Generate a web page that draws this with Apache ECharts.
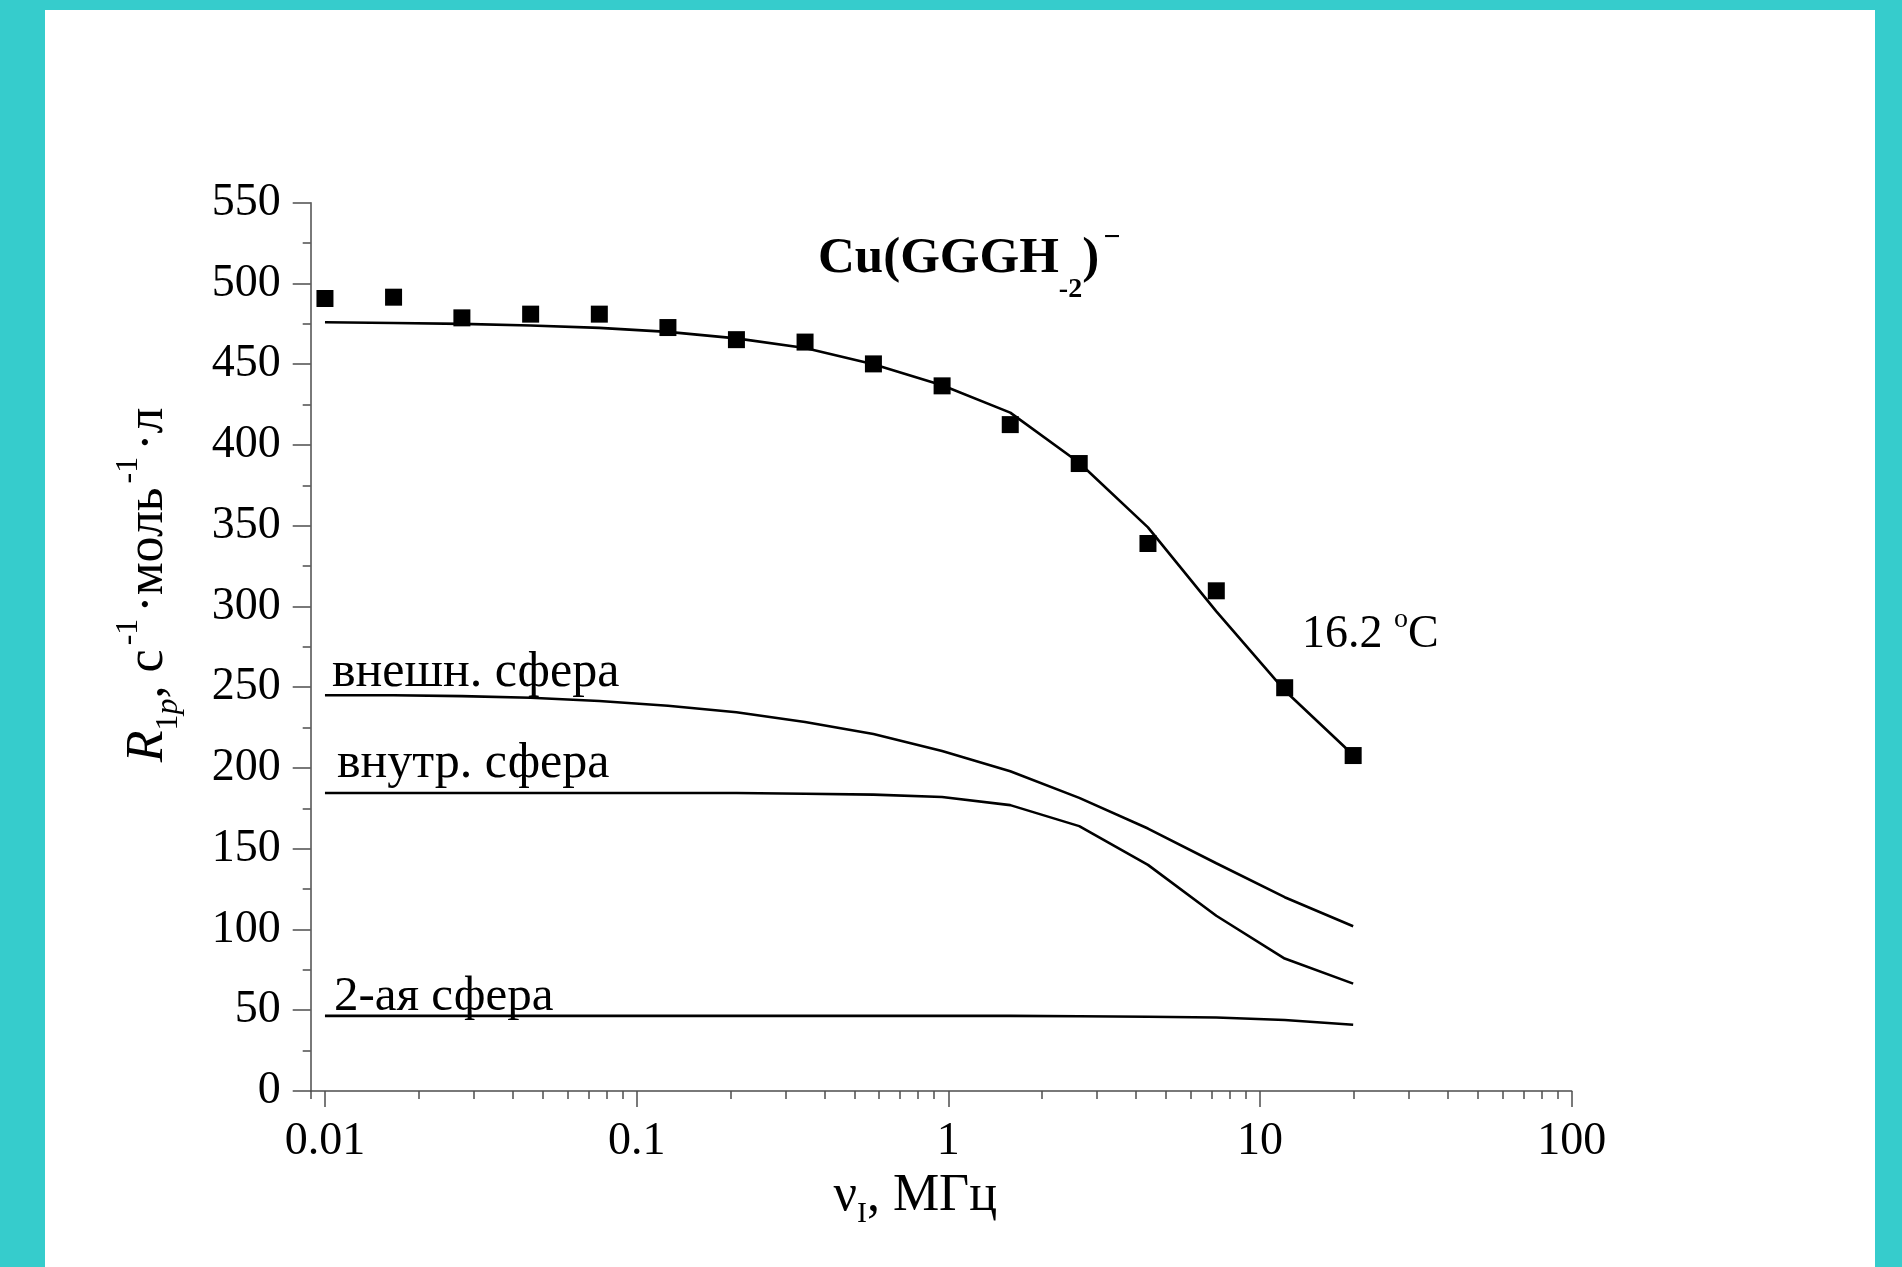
<!DOCTYPE html>
<html>
<head>
<meta charset="utf-8">
<script src="https://cdn.jsdelivr.net/npm/echarts@6/dist/echarts.min.js"></script>
<style>
  html, body { margin: 0; padding: 0; width: 1902px; height: 1267px; overflow: hidden; background: #36cccc; }
  #chart { position: absolute; left: 45px; top: 10px; width: 1830px; height: 1257px; background: #fff; }
</style>
</head>
<body>
<div id="chart"></div>
<script>
// частота, МГц
var freq = [0.01, 0.0166, 0.0275, 0.0457, 0.0759, 0.126, 0.209, 0.347, 0.575, 0.955, 1.58, 2.63, 4.37, 7.24, 12.0, 19.9];
// эксперимент R1p, 16.2 °C
var expR = [490.7, 491.5, 478.7, 481, 481, 472.7, 465.2, 463.7, 450.2, 436.6, 412.6, 388.5, 339, 309.7, 249.7, 207.7];
// расчёт: сумма и вклады
var fitTotal = [476, 475.5, 475, 474, 472.5, 470, 466, 460, 450, 437, 420, 389, 349, 297, 248, 208];
var fitOuter = [245, 245, 244.5, 243.5, 241.5, 238.5, 234.5, 228.5, 221, 210.5, 198, 181.5, 162.5, 141, 120, 102];
var fitInner = [184.5, 184.5, 184.5, 184.5, 184.5, 184.5, 184.5, 184, 183.5, 182, 177, 164, 140, 108.5, 82, 66.5];
var fitSecond = [46.5, 46.5, 46.5, 46.5, 46.5, 46.5, 46.5, 46.5, 46.5, 46.5, 46.5, 46.3, 46, 45.5, 44, 41];

// деления оси x
var xMajor = [0.01, 0.1, 1, 10, 100];
var xMinor = [0.009,
  0.02, 0.03, 0.04, 0.05, 0.06, 0.07, 0.08, 0.09,
  0.2, 0.3, 0.4, 0.5, 0.6, 0.7, 0.8, 0.9,
  2, 3, 4, 5, 6, 7, 8, 9,
  20, 30, 40, 50, 60, 70, 80, 90];

var FONT = 'Liberation Serif';
var AX = '#4d4d4d';

function pairs(ys) {
  return freq.map(function (f, i) { return [f, ys[i]]; });
}

var chart = echarts.init(document.getElementById('chart'));

var lineStyle = { color: '#000', width: 2.6 };
function curve(name, ys) {
  return {
    name: name, type: 'line', xAxisIndex: 0, yAxisIndex: 0,
    data: pairs(ys), symbol: 'none', smooth: false,
    lineStyle: lineStyle, z: 3, silent: true
  };
}

var option = {
  animation: false,
  backgroundColor: '#fff',
  textStyle: { fontFamily: FONT, color: '#000' },
  title: {
    left: 768, top: 198,
    text: '{b|Cu(GGGH}{s|-2}{b|)}{p|\u2212}',
    textStyle: {
      rich: {
        b: { fontFamily: FONT, fontWeight: 'bold', fontSize: 51, lineHeight: 91, color: '#000' },
        s: { fontFamily: FONT, fontWeight: 'bold', fontSize: 28, lineHeight: 28, verticalAlign: 'bottom', color: '#000' },
        p: { fontFamily: FONT, fontWeight: 'bold', fontSize: 30, lineHeight: 30, verticalAlign: 'top', padding: [10, 0, 0, 4], color: '#000' }
      }
    }
  },
  grid: { left: 265.7, right: 303.3, top: 192.7, bottom: 176 },
  xAxis: [{
    type: 'log', logBase: 10, min: 0.009, max: 100,
    position: 'bottom',
    name: '{g|\u03bd}{s|I}{n|, МГц}',
    nameLocation: 'middle', nameGap: 72,
    nameTextStyle: {
      padding: [0, 52, 0, 0],
      rich: {
        g: { fontFamily: FONT, fontSize: 52, lineHeight: 66, color: '#000' },
        s: { fontFamily: FONT, fontSize: 30, lineHeight: 28, verticalAlign: 'bottom', color: '#000' },
        n: { fontFamily: FONT, fontSize: 52, lineHeight: 66, color: '#000' }
      }
    },
    axisLine: { show: true, onZero: false, lineStyle: { color: AX, width: 1.5 } },
    axisTick: { show: true, inside: false, length: 16, customValues: xMajor, lineStyle: { color: AX, width: 1.5 } },
    axisLabel: {
      show: true, customValues: xMajor, margin: 28,
      fontFamily: FONT, fontSize: 46, color: '#000',
      formatter: function (v) { return String(+v.toPrecision(6)); }
    },
    splitLine: { show: false },
    minorTick: { show: false }
  }, {
    type: 'log', logBase: 10, min: 0.009, max: 100,
    position: 'bottom',
    axisLine: { show: false },
    axisTick: { show: true, inside: false, length: 8, customValues: xMinor, lineStyle: { color: AX, width: 1.5 } },
    axisLabel: { show: false },
    splitLine: { show: false }
  }],
  yAxis: {
    type: 'value', min: 0, max: 550, interval: 50,
    name: '{i|R}{s|1}{si|p}{n|, с}{p|-1}{n|\u00b7моль}{p|-1}{n|\u00b7л}',
    nameLocation: 'middle', nameGap: 126, nameRotate: 90,
    nameTextStyle: {
      padding: [0, 0, 0, 124],
      rich: {
        i: { fontFamily: FONT, fontStyle: 'italic', fontSize: 52, lineHeight: 72, color: '#000' },
        n: { fontFamily: FONT, fontSize: 52, lineHeight: 72, color: '#000' },
        s: { fontFamily: FONT, fontSize: 32, lineHeight: 42, verticalAlign: 'bottom', color: '#000' },
        si: { fontFamily: FONT, fontStyle: 'italic', fontSize: 32, lineHeight: 42, verticalAlign: 'bottom', color: '#000' },
        p: { fontFamily: FONT, fontSize: 32, lineHeight: 32, verticalAlign: 'top', padding: [0, 6, 0, 4], color: '#000' }
      }
    },
    axisLine: { show: true, onZero: false, lineStyle: { color: AX, width: 1.5 } },
    axisTick: { show: true, inside: false, length: 18, lineStyle: { color: AX, width: 1.5 } },
    minorTick: { show: true, splitNumber: 2, length: 8, lineStyle: { color: AX, width: 1.5 } },
    axisLabel: { margin: 30, fontFamily: FONT, fontSize: 46, color: '#000' },
    splitLine: { show: false },
    minorSplitLine: { show: false }
  },
  graphic: [
    { type: 'text', left: 287, top: 638, style: { text: 'внешн. сфера', font: '50px "Liberation Serif"', fill: '#000' } },
    { type: 'text', left: 292, top: 729, style: { text: 'внутр. сфера', font: '50px "Liberation Serif"', fill: '#000' } },
    { type: 'text', left: 289, top: 963, style: { text: '2-ая сфера', font: '49px "Liberation Serif"', fill: '#000' } },
    {
      type: 'text', left: 1257, top: 596,
      style: {
        text: '{n|16.2 }{p|o}{n|C}',
        rich: {
          n: { fontFamily: FONT, fontSize: 46, lineHeight: 58, fill: '#000' },
          p: { fontFamily: FONT, fontSize: 28, lineHeight: 28, verticalAlign: 'top', fill: '#000' }
        }
      }
    }
  ],
  series: [
    curve('сумма', fitTotal),
    curve('внешн. сфера', fitOuter),
    curve('внутр. сфера', fitInner),
    curve('2-ая сфера', fitSecond),
    {
      name: '16.2 °C', type: 'scatter', xAxisIndex: 0, yAxisIndex: 0,
      data: pairs(expR), symbol: 'rect', symbolSize: 17,
      itemStyle: { color: '#000', opacity: 1 }, z: 4, silent: true
    }
  ]
};

chart.setOption(option);
</script>
</body>
</html>
